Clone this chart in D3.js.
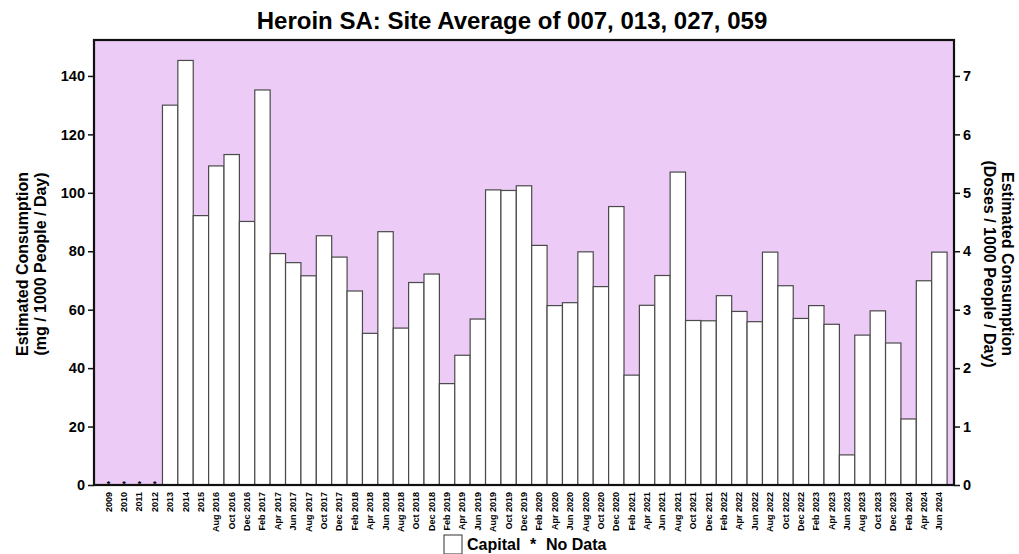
<!DOCTYPE html>
<html><head><meta charset="utf-8">
<script src="https://cdn.jsdelivr.net/npm/d3@7"></script>
<style>
body{margin:0;background:#fff;}
text{font-family:"Liberation Sans",Arial,sans-serif;font-weight:bold;fill:#000;}
</style></head>
<body>
<svg id="chart" width="1019" height="554"></svg>
<script>
const categories = ["2009","2010","2011","2012","2013","2014","2015",
"Aug 2016","Oct 2016","Dec 2016","Feb 2017","Apr 2017","Jun 2017","Aug 2017","Oct 2017","Dec 2017",
"Feb 2018","Apr 2018","Jun 2018","Aug 2018","Oct 2018","Dec 2018",
"Feb 2019","Apr 2019","Jun 2019","Aug 2019","Oct 2019","Dec 2019",
"Feb 2020","Apr 2020","Jun 2020","Aug 2020","Oct 2020","Dec 2020",
"Feb 2021","Apr 2021","Jun 2021","Aug 2021","Oct 2021","Dec 2021",
"Feb 2022","Apr 2022","Jun 2022","Aug 2022","Oct 2022","Dec 2022",
"Feb 2023","Apr 2023","Jun 2023","Aug 2023","Oct 2023","Dec 2023",
"Feb 2024","Apr 2024","Jun 2024"];
const capital = [null,null,null,null,130,145.3,92.2,
109.2,113.1,90.2,135.2,79.2,76.1,71.6,85.3,78,
66.4,51.9,86.7,53.7,69.3,72.2,
34.7,44.4,56.8,101,100.8,102.4,
82,61.4,62.4,79.8,67.9,95.3,
37.6,61.5,71.7,107.1,56.3,56.2,
64.8,59.4,55.9,79.7,68.2,57,
61.4,55,10.3,51.3,59.6,48.6,
22.6,69.9,79.7];
const leftTicks = [0,20,40,60,80,100,120,140];
const rightTicks = [0,1,2,3,4,5,6,7];
const mgPerDose = 20;
const title = "Heroin SA: Site Average of 007, 013, 027, 059";

const svg = d3.select("#chart");
const L = 94, R = 954, T = 40, B = 485;
const yMax = 152.3;

const x = d3.scaleBand().domain(categories).range([L, R]).paddingInner(0).paddingOuter(0.45);
const y = d3.scaleLinear().domain([0, yMax]).range([B, T]);
const y2 = d3.scaleLinear().domain([0, yMax / mgPerDose]).range([B, T]);

svg.append("rect").attr("x", L).attr("y", T).attr("width", R - L).attr("height", B - T)
  .attr("fill", "#EDCBF7");

const data = categories.map((c, i) => ({c, v: capital[i]}));

svg.append("g").selectAll("rect").data(data.filter(d => d.v != null)).join("rect")
  .attr("x", d => x(d.c)).attr("y", d => y(d.v))
  .attr("width", x.bandwidth()).attr("height", d => y(0) - y(d.v))
  .attr("fill", "#fff").attr("stroke", "#4a4a4a").attr("stroke-width", 1.2);

svg.append("g").selectAll("text").data(data.filter(d => d.v == null)).join("text")
  .attr("x", d => x(d.c) + x.bandwidth() / 2).attr("y", B + 2)
  .attr("text-anchor", "middle").attr("font-size", 9).text("*");

// frame
svg.append("rect").attr("x", L).attr("y", T).attr("width", R - L).attr("height", B - T)
  .attr("fill", "none").attr("stroke", "#111").attr("stroke-width", 2.2);

// left axis
const ga = svg.append("g").attr("transform", `translate(${L},0)`)
  .call(d3.axisLeft(y).tickValues(leftTicks).tickSize(6).tickPadding(3));
ga.select(".domain").remove();
ga.selectAll("line").attr("stroke", "#111").attr("stroke-width", 1.5);
ga.selectAll("text").attr("font-size", 14.5).style("font-family", "Liberation Sans, Arial").style("font-weight", "bold");

const gr = svg.append("g").attr("transform", `translate(${R},0)`)
  .call(d3.axisRight(y2).tickValues(rightTicks).tickSize(6).tickPadding(3));
gr.select(".domain").remove();
gr.selectAll("line").attr("stroke", "#111").attr("stroke-width", 1.5);
gr.selectAll("text").attr("font-size", 14.5).style("font-family", "Liberation Sans, Arial").style("font-weight", "bold");

// x labels
const gx = svg.append("g").attr("transform", `translate(0,${B})`)
  .call(d3.axisBottom(x).tickSize(0).tickPadding(0));
gx.select(".domain").remove();
gx.selectAll("text")
  .attr("transform", "rotate(-90)")
  .attr("text-anchor", "end").attr("dx", "-7").attr("dy", "0.33em").attr("y", 0)
  .attr("font-size", 9).style("font-family", "Liberation Sans, Arial").style("font-weight", "bold");

// title
svg.append("text").attr("x", 512).attr("y", 29).attr("text-anchor", "middle")
  .attr("font-size", 24).text(title);

// left axis label
const ly = 264;
const lt = svg.append("text").attr("transform", `translate(28,${ly}) rotate(-90)`).attr("text-anchor", "middle").attr("font-size", 16);
lt.append("tspan").attr("x", 0).attr("dy", 0).text("Estimated Consumption");
lt.append("tspan").attr("x", 0).attr("dy", 18).text("(mg / 1000 People / Day)");

const rt = svg.append("text").attr("transform", `translate(1002,${ly}) rotate(90)`).attr("text-anchor", "middle").attr("font-size", 16);
rt.append("tspan").attr("x", 0).attr("dy", 0).text("Estimated Consumption");
rt.append("tspan").attr("x", 0).attr("dy", 18).text("(Doses / 1000 People / Day)");

// legend
const lg = svg.append("g");
lg.append("rect").attr("x", 444).attr("y", 535).attr("width", 18).attr("height", 19)
  .attr("fill", "#fff").attr("stroke", "#333").attr("stroke-width", 1);
lg.append("text").attr("x", 467).attr("y", 550).attr("font-size", 16).text("Capital");
lg.append("text").attr("x", 530).attr("y", 550).attr("font-size", 16).text("*");
lg.append("text").attr("x", 546).attr("y", 550).attr("font-size", 16).text("No Data");
</script>
</body></html>
